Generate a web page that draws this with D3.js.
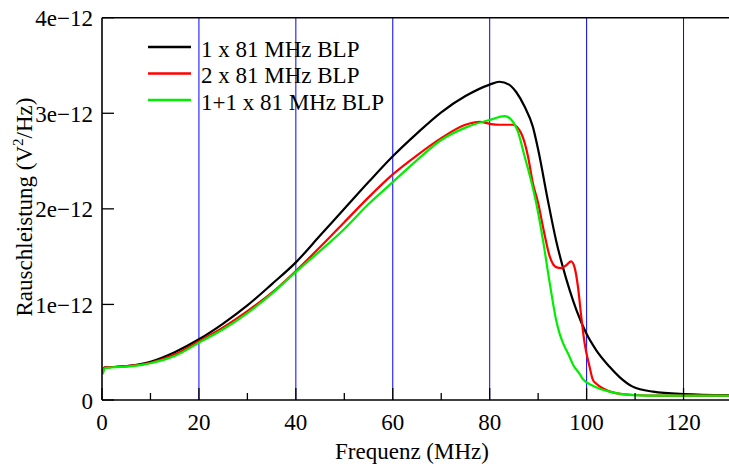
<!DOCTYPE html>
<html>
<head>
<meta charset="utf-8">
<script src="https://cdn.jsdelivr.net/npm/d3@7"></script>
<style>
  html, body { margin: 0; padding: 0; background: #fff; font-family: "Liberation Serif", serif; }
  svg { display: block; }
  svg text { font-family: "Liberation Serif", "DejaVu Serif", serif !important; }
</style>
</head>
<body>
<svg id="chart" width="729" height="467"></svg>
<script>
// ---- data (frequency in MHz, noise power in units of 1e-12 V^2/Hz) ----
const seriesNames = ["1 x 81 MHz BLP", "2 x 81 MHz BLP", "1+1 x 81 MHz BLP"];
const seriesColors = ["#000000", "#ff0000", "#00ee00"];

const freqBlack = [0.2, 0.5, 2, 5, 8, 10, 15, 20, 25, 30, 35, 40, 45, 50, 55, 60, 65, 70, 75, 80, 82, 84, 85.5, 87.2, 88.9, 90, 92, 93.7, 95.1, 96.5, 97.9, 99.9, 102, 104.7, 106.8, 109.5, 113.7, 120, 130];
const valBlack  = [0.30, 0.34, 0.345, 0.355, 0.375, 0.40, 0.50, 0.635, 0.80, 0.99, 1.21, 1.44, 1.72, 2.00, 2.28, 2.55, 2.79, 3.01, 3.18, 3.30, 3.33, 3.30, 3.22, 3.07, 2.86, 2.62, 2.09, 1.67, 1.39, 1.15, 0.94, 0.70, 0.52, 0.35, 0.24, 0.14, 0.087, 0.062, 0.05];

const freqRed = [0.2, 0.5, 2, 5, 8, 10, 15, 20, 25, 30, 35, 40, 45, 50, 55, 60, 65, 70, 75, 78, 80, 82, 84.8, 86.5, 87.9, 88.9, 90, 91, 92.4, 93.7, 94.8, 95.8, 96.8, 97.5, 98.2, 98.9, 99.6, 100.6, 101.3, 102, 103.4, 105.4, 109, 115, 130];
const valRed  = [0.29, 0.34, 0.345, 0.355, 0.37, 0.39, 0.475, 0.615, 0.76, 0.93, 1.12, 1.35, 1.60, 1.86, 2.12, 2.36, 2.56, 2.74, 2.88, 2.91, 2.89, 2.88, 2.88, 2.79, 2.55, 2.27, 2.06, 1.81, 1.50, 1.39, 1.38, 1.41, 1.45, 1.39, 1.19, 0.87, 0.59, 0.35, 0.21, 0.17, 0.12, 0.08, 0.055, 0.045, 0.045];

const freqGreen = [0.2, 0.5, 2, 5, 8, 10, 15, 20, 25, 30, 35, 40, 45, 50, 55, 60, 65, 70, 75, 80, 83.1, 84.5, 85.8, 87.2, 88.9, 89.6, 91, 92.4, 93.7, 94.4, 95.1, 96.5, 97.2, 98.6, 99.2, 101.3, 104.7, 109.5, 115, 130];
const valGreen  = [0.27, 0.33, 0.34, 0.35, 0.365, 0.385, 0.46, 0.60, 0.74, 0.91, 1.11, 1.34, 1.56, 1.79, 2.05, 2.28, 2.51, 2.72, 2.85, 2.93, 2.97, 2.93, 2.81, 2.55, 2.22, 2.06, 1.67, 1.22, 0.84, 0.70, 0.60, 0.45, 0.37, 0.27, 0.22, 0.15, 0.087, 0.052, 0.045, 0.045];

const xTicks = [0, 20, 40, 60, 80, 100, 120];
const xMinorTicks = [10, 30, 50, 70, 90, 110];
const yTicks = [0, 1, 2, 3, 4];
const yTickLabels = ["0", "1e\u221212", "2e\u221212", "3e\u221212", "4e\u221212"];
const gridX = [20, 40, 60, 80, 100, 120];

// ---- layout ----
const FONT = "Liberation Serif";
const svg = d3.select("#chart");
const pLeft = 102, pRight = 732, pTop = 17.7, pBottom = 400;
const x = d3.scaleLinear().domain([0, 130]).range([pLeft, pRight]);
const y = d3.scaleLinear().domain([0, 4]).range([pBottom, pTop]);

svg.append("defs").append("clipPath").attr("id", "clip")
  .append("rect").attr("x", pLeft).attr("y", pTop).attr("width", pRight - pLeft).attr("height", pBottom - pTop);

// grid lines
svg.append("g").selectAll("line").data(gridX).join("line")
  .attr("x1", d => x(d)).attr("x2", d => x(d))
  .attr("y1", pTop).attr("y2", pBottom)
  .attr("stroke", "#0000ff").attr("stroke-width", 1);

// curves
const series = [
  freqBlack.map((f, i) => [f, valBlack[i]]),
  freqRed.map((f, i) => [f, valRed[i]]),
  freqGreen.map((f, i) => [f, valGreen[i]])
];
const line = d3.line().x(d => x(d[0])).y(d => y(d[1])).curve(d3.curveMonotoneX);
const g = svg.append("g").attr("clip-path", "url(#clip)");
series.forEach((s, i) => {
  g.append("path").attr("d", line(s)).attr("fill", "none")
    .attr("stroke", seriesColors[i]).attr("stroke-width", 2.2)
    .attr("stroke-linejoin", "round");
});

// frame: left, bottom, top
svg.append("line").attr("x1", pLeft).attr("x2", pLeft).attr("y1", pTop).attr("y2", pBottom)
  .attr("stroke", "#000").attr("stroke-width", 1.6);
svg.append("line").attr("x1", pLeft).attr("x2", pRight).attr("y1", pBottom).attr("y2", pBottom)
  .attr("stroke", "#000").attr("stroke-width", 1.6);
svg.append("line").attr("x1", pLeft).attr("x2", pRight).attr("y1", pTop).attr("y2", pTop)
  .attr("stroke", "#000").attr("stroke-width", 1.6);

// x ticks (inward)
svg.append("g").selectAll("line").data(xTicks).join("line")
  .attr("x1", d => x(d)).attr("x2", d => x(d))
  .attr("y1", pBottom).attr("y2", pBottom - 12)
  .attr("stroke", "#000").attr("stroke-width", 1.3);
svg.append("g").selectAll("line").data(xMinorTicks).join("line")
  .attr("x1", d => x(d)).attr("x2", d => x(d))
  .attr("y1", pBottom).attr("y2", pBottom - 7)
  .attr("stroke", "#000").attr("stroke-width", 1.3);
svg.append("g").selectAll("text").data(xTicks).join("text")
  .attr("x", d => x(d)).attr("y", 430)
  .attr("text-anchor", "middle").attr("font-size", 23)
  .style("font-family", FONT)
  .text(d => d);

// y ticks (inward)
svg.append("g").selectAll("line").data(yTicks).join("line")
  .attr("x1", pLeft).attr("x2", pLeft + 12)
  .attr("y1", d => y(d)).attr("y2", d => y(d))
  .attr("stroke", "#000").attr("stroke-width", 1.3);
svg.append("g").selectAll("text").data(yTicks).join("text")
  .attr("x", 93).attr("y", d => y(d) + 8.5)
  .attr("text-anchor", "end").attr("font-size", 23)
  .style("font-family", FONT)
  .text((d, i) => yTickLabels[i]);

// axis titles
svg.append("text").attr("x", 412).attr("y", 459)
  .attr("text-anchor", "middle").attr("font-size", 23)
  .style("font-family", FONT)
  .text("Frequenz (MHz)");
const yt = svg.append("text")
  .attr("transform", "translate(32,207) rotate(-90)")
  .attr("text-anchor", "middle").attr("font-size", 23)
  .style("font-family", FONT);
yt.append("tspan").text("Rauschleistung (V");
yt.append("tspan").attr("font-size", 15).attr("dy", -9).text("2");
yt.append("tspan").attr("dy", 9).text("/Hz)");

// legend
const legend = svg.append("g");
seriesNames.forEach((name, i) => {
  const ly = 47 + i * 26.5;
  legend.append("line").attr("x1", 148).attr("x2", 191).attr("y1", ly).attr("y2", ly)
    .attr("stroke", seriesColors[i]).attr("stroke-width", 2.4);
  legend.append("text").attr("x", 201).attr("y", ly + 9.5).attr("font-size", 23)
    .style("font-family", FONT).text(name);
});
</script>
</body>
</html>
